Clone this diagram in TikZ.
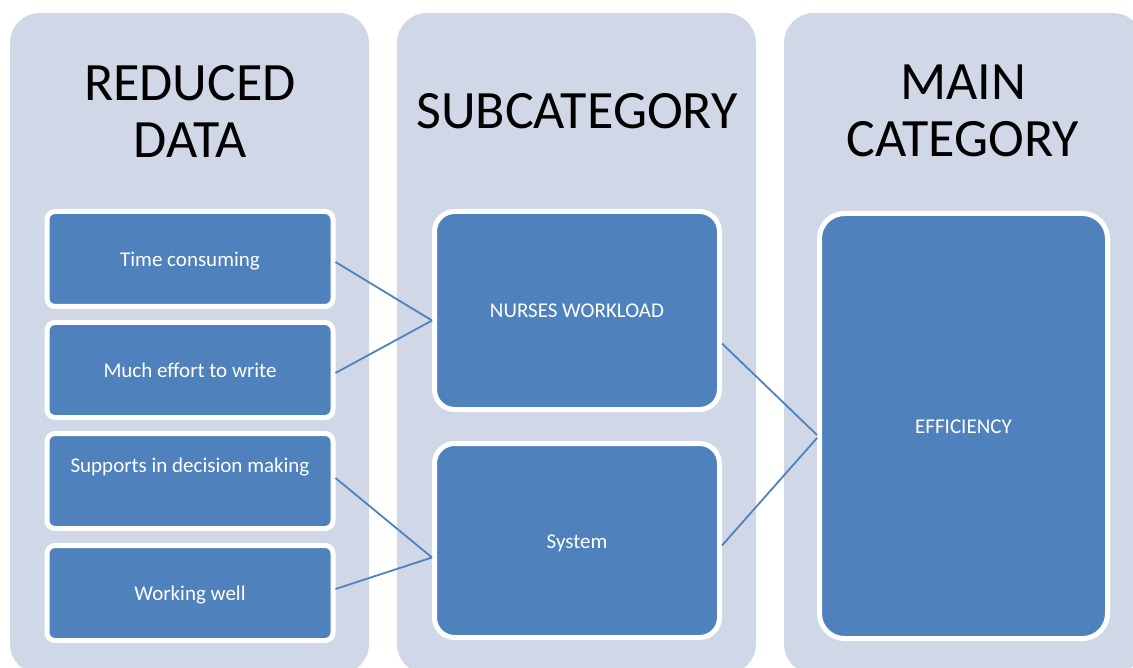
\documentclass[tikz,border=0pt]{standalone}
\usepackage{fontspec}
\setmainfont{Carlito}
\usetikzlibrary{calc}
\definecolor{panelgray}{HTML}{D0D8E8}
\definecolor{cellblue}{HTML}{4F81BD}
\newcommand*{\PanelWidth}{359}
\newcommand*{\DataItems}[1]{% #1 = list of name/y/depth/text
  \foreach \cellname/\y/\dep/\itemtext in {#1} {
    \node [dataitem, text depth=\dep pt] (\cellname) at (190,\y) {\itemtext};
    }%
}
\tikzset{
  panel/.style={fill=panelgray, draw=none, rounded corners=30pt},
  heading/.style={align=center, font=\fontsize{54}{57}\selectfont},
  cell/.style={fill=cellblue, draw=white, line width=5pt, text=white,
    font=\fontsize{21}{25}\selectfont, text height=20pt, text depth=5pt},
  dataitem/.style={cell, rounded corners=8pt, minimum width=286pt, minimum height=95pt},
  link/.style={draw=cellblue, line width=1.8pt}
}

\begin{document}
\begin{tikzpicture}[x=1pt,y=-1pt]
    \clip (0,0) rectangle (1133,668);
    \foreach \x in {10,397,784} {
        \fill[panel] (\x,13) rectangle (\x+\PanelWidth,674);
    }
    \node [heading] (t1) at (190,111) {REDUCED\\DATA};
    \node [heading] (t2) at (577,111) {SUBCATEGORY};
    \node [heading] (t3) at (963,111) {MAIN\\CATEGORY};

    \DataItems{d1/259/5/Time consuming, d2/370/5/Much effort to write,
        d3/481/37/Supports in decision making, d4/593/5/Working well}

    \node [cell, rounded corners=20pt, minimum width=285pt, minimum height=198pt]
        (s1) at (577,310.5) {NURSES WORKLOAD};
    \node [cell, rounded corners=20pt, minimum width=285pt, minimum height=194pt]
        (s2) at (577,540.5) {System};
    \node [cell, rounded corners=25pt, minimum width=288pt, minimum height=425pt]
        (m1) at (963.5,426) {EFFICIENCY};

    \draw [link] ([yshift=-3pt]d1.east) -- ([yshift=-10pt]s1.west);
    \draw [link] ([yshift=-3pt]d2.east) -- ([yshift=-10pt]s1.west);
    \draw [link] ([yshift=3pt]d3.east) -- ([yshift=-17pt]s2.west);
    \draw [link] ([yshift=4pt]d4.east) -- ([yshift=-17pt]s2.west);
    \draw [link] ([yshift=-33pt]s1.east) -- ([yshift=-9pt]m1.west);
    \draw [link] ([yshift=-5pt]s2.east) -- ([yshift=-12pt]m1.west);
\end{tikzpicture}
\end{document}
